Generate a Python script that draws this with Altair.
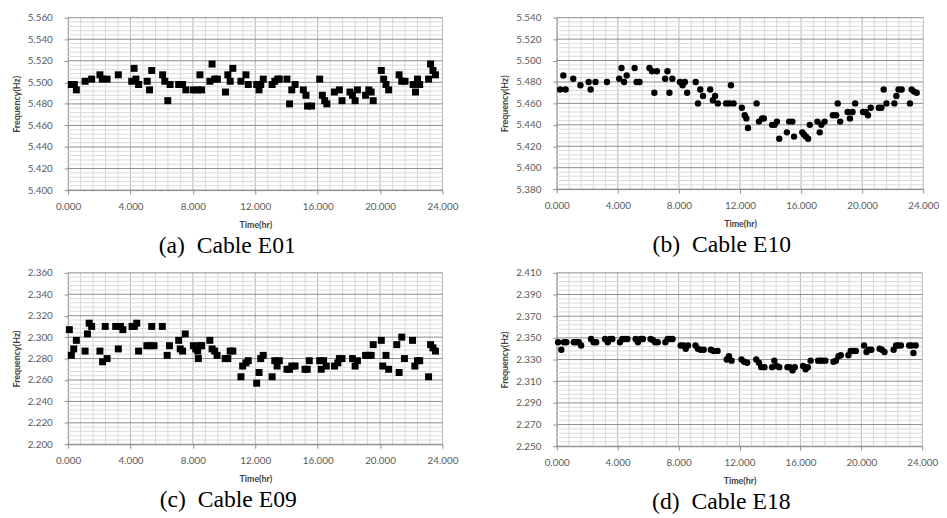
import altair as alt
import pandas as pd

# ---------------- data ----------------
A_T = [0.21,0.40,0.53,1.09,1.51,2.04,2.19,2.50,3.22,4.08,4.23,4.35,4.52,5.07,5.22,5.36,6.06,6.20,6.39,6.54,
       7.09,7.34,7.55,8.03,8.31,8.45,8.56,9.09,9.23,9.40,9.57,10.09,10.24,10.39,10.56,11.08,11.40,11.55,12.09,12.24,
       12.35,12.51,13.08,13.25,13.44,13.54,14.03,14.20,14.34,14.55,15.08,15.25,15.35,15.61,16.13,16.30,16.45,16.59,17.07,17.39,
       17.56,18.07,18.23,18.40,18.55,19.07,19.28,19.43,19.56,20.08,20.23,20.38,20.55,21.22,21.39,21.60,22.12,22.27,22.40,22.54,
       23.11,23.24,23.39,23.55]
A_F = [5.498,5.498,5.493,5.501,5.503,5.507,5.503,5.503,5.507,5.501,5.513,5.503,5.498,5.501,5.493,5.511,5.507,5.501,5.483,5.498,
       5.498,5.498,5.493,5.493,5.493,5.507,5.493,5.501,5.517,5.503,5.503,5.491,5.507,5.501,5.513,5.501,5.507,5.498,5.498,5.493,
       5.498,5.503,5.498,5.501,5.503,5.503,5.503,5.480,5.493,5.498,5.493,5.488,5.478,5.478,5.503,5.488,5.483,5.480,5.491,5.493,
       5.483,5.491,5.488,5.483,5.493,5.488,5.493,5.491,5.483,5.511,5.503,5.498,5.493,5.507,5.501,5.501,5.498,5.491,5.503,5.498,
       5.503,5.517,5.511,5.507]

B_T = [0.22,0.43,0.58,1.08,1.55,2.09,2.22,2.54,3.29,4.09,4.24,4.41,4.58,5.10,5.23,5.42,6.07,6.24,6.39,6.56,
       7.10,7.25,7.38,7.57,8.07,8.24,8.39,8.54,9.10,9.25,9.40,9.58,10.05,10.22,10.37,10.55,11.09,11.30,11.41,11.58,
       12.12,12.31,12.42,12.52,13.09,13.24,13.45,13.56,14.10,14.27,14.42,14.57,15.07,15.22,15.43,15.54,16.08,16.19,16.32,16.46,
       16.57,17.07,17.22,17.33,17.54,18.08,18.30,18.40,18.56,19.05,19.20,19.37,19.54,20.06,20.23,20.38,20.56,21.09,21.26,21.41,
       21.59,22.11,22.24,22.38,22.59,23.13,23.24,23.40,23.57]
B_F = [5.473,5.486,5.473,5.483,5.477,5.480,5.473,5.480,5.480,5.483,5.493,5.480,5.486,5.493,5.480,5.480,5.493,5.490,5.470,5.490,
       5.483,5.490,5.470,5.483,5.480,5.477,5.480,5.470,5.480,5.460,5.473,5.467,5.473,5.463,5.467,5.460,5.460,5.460,5.477,5.460,
       5.456,5.449,5.446,5.437,5.460,5.443,5.446,5.446,5.440,5.440,5.443,5.427,5.433,5.443,5.443,5.429,5.433,5.431,5.429,5.427,
       5.440,5.443,5.433,5.440,5.443,5.449,5.449,5.460,5.443,5.452,5.446,5.452,5.460,5.452,5.452,5.449,5.456,5.456,5.456,5.473,
       5.460,5.460,5.467,5.473,5.473,5.460,5.473,5.471,5.470]

C_T = [0.08,0.21,0.36,0.53,1.09,1.24,1.35,1.51,2.04,2.21,2.38,2.50,3.05,3.22,3.36,3.51,4.10,4.25,4.40,4.52,
       5.05,5.24,5.36,5.51,6.04,6.35,6.50,7.09,7.19,7.34,7.51,8.03,8.18,8.31,8.35,8.45,8.56,9.09,9.23,9.40,
       9.55,10.07,10.24,10.39,10.56,11.08,11.19,11.40,11.55,12.09,12.24,12.35,12.51,13.08,13.25,13.40,13.54,14.03,14.20,14.34,
       14.55,15.19,15.33,15.46,16.13,16.23,16.38,16.55,17.08,17.29,17.39,17.56,18.23,18.40,18.55,19.07,19.24,19.43,19.56,20.08,
       20.17,20.38,20.55,21.07,21.22,21.39,21.56,22.08,22.23,22.40,22.54,23.11,23.24,23.39,23.55]
C_F = [2.307,2.283,2.289,2.297,2.287,2.303,2.313,2.310,2.287,2.277,2.310,2.280,2.310,2.289,2.310,2.307,2.310,2.310,2.313,2.287,
       2.292,2.292,2.310,2.292,2.310,2.283,2.292,2.297,2.289,2.287,2.303,2.292,2.289,2.287,2.280,2.292,2.292,2.297,2.289,2.287,
       2.283,2.280,2.280,2.287,2.287,2.263,2.273,2.276,2.278,2.257,2.267,2.280,2.283,2.263,2.278,2.273,2.278,2.270,2.270,2.273,
       2.273,2.270,2.270,2.278,2.278,2.270,2.278,2.273,2.273,2.276,2.280,2.280,2.280,2.273,2.278,2.283,2.283,2.283,2.293,2.297,
       2.273,2.283,2.270,2.293,2.267,2.300,2.280,2.297,2.273,2.278,2.278,2.263,2.293,2.290,2.287]

D_T = [0.09,0.30,0.48,0.63,1.12,1.27,1.45,1.60,2.25,2.42,2.59,3.17,3.35,3.50,3.65,4.15,4.30,4.47,4.64,5.18,
       5.33,5.51,5.66,6.16,6.31,6.46,6.63,7.13,7.28,7.45,7.60,8.14,8.32,8.47,8.62,9.11,9.27,9.44,9.65,10.12,
       10.30,10.56,11.16,11.31,11.48,12.13,12.31,12.50,13.10,13.28,13.43,13.64,14.14,14.29,14.44,14.61,15.15,15.30,15.48,15.63,
       16.17,16.34,16.49,16.67,17.16,17.31,17.46,17.64,18.17,18.33,18.50,18.65,19.15,19.30,19.47,19.64,20.18,20.34,20.49,20.66,
       21.20,21.35,21.52,22.12,22.28,22.43,22.60,23.14,23.29,23.42,23.57]
D_F = [2.346,2.339,2.346,2.346,2.346,2.346,2.346,2.343,2.349,2.346,2.346,2.349,2.346,2.349,2.349,2.346,2.349,2.349,2.349,2.349,
       2.346,2.349,2.349,2.349,2.348,2.346,2.346,2.346,2.349,2.349,2.349,2.343,2.343,2.340,2.343,2.343,2.340,2.339,2.339,2.339,
       2.338,2.338,2.330,2.333,2.329,2.330,2.328,2.327,2.330,2.327,2.323,2.323,2.323,2.329,2.324,2.323,2.323,2.323,2.320,2.323,
       2.324,2.321,2.323,2.329,2.329,2.329,2.329,2.329,2.328,2.329,2.333,2.334,2.334,2.338,2.338,2.338,2.343,2.337,2.339,2.339,
       2.340,2.339,2.337,2.339,2.343,2.343,2.343,2.343,2.343,2.336,2.343]

X_TICKS = [0, 4, 8, 12, 16, 20, 24]
CAPTIONS = ["(a)\u00a0\u00a0Cable E01", "(b)\u00a0\u00a0Cable E10",
            "(c)\u00a0\u00a0Cable E09", "(d)\u00a0\u00a0Cable E18"]
Y_RANGES = [(5.400, 5.560), (5.380, 5.540), (2.200, 2.360), (2.250, 2.410)]


def panel(t, f, shape, size, yr, caption, width, height, dx):
    ymin, ymax = yr
    df = pd.DataFrame({"t": t, "f": f})
    y_major = [round(ymin + 0.02 * i, 3) for i in range(9)]
    y_minor = [round(ymin + 0.004 * i, 4) for i in range(41) if i % 5]
    x_minor = [round(0.8 * i, 2) for i in range(31) if i % 5]
    xs = alt.Scale(domain=[0, 24], nice=False, zero=False)
    ys = alt.Scale(domain=[ymin, ymax], nice=False, zero=False)
    xax = alt.Axis(values=X_TICKS, format=".3f", title="Time(hr)", grid=False,
                   labelFlush=False, labelPadding=8, titlePadding=9)
    yax = alt.Axis(values=y_major, format=".3f", title="Frequency(Hz)", grid=False,
                   labelFlush=False, labelPadding=12, titlePadding=6)

    def X(field):
        return alt.X(field, type="quantitative", scale=xs, axis=xax)

    def Y(field):
        return alt.Y(field, type="quantitative", scale=ys, axis=yax)

    vmin = alt.Chart(pd.DataFrame({"t": x_minor})).mark_rule(color="#d6d6d6", strokeWidth=1).encode(x=X("t"))
    vmaj = alt.Chart(pd.DataFrame({"t": X_TICKS})).mark_rule(color="#b4b4b4", strokeWidth=1).encode(x=X("t"))
    hmin = alt.Chart(pd.DataFrame({"f": y_minor})).mark_rule(color="#dadada", strokeWidth=1).encode(y=Y("f"))
    hmaj = alt.Chart(pd.DataFrame({"f": y_major})).mark_rule(color="#8c8c8c", strokeWidth=1).encode(y=Y("f"))

    pts = alt.Chart(df).mark_point(shape=shape, filled=True, color="black", opacity=1, size=size).encode(
        x=X("t"), y=Y("f"))
    return alt.layer(vmin, vmaj, hmin, hmaj, pts).properties(
        width=width, height=height,
        title=alt.TitleParams(caption, orient="bottom", anchor="middle", frame="bounds",
                              dx=dx, offset=5, font="Liberation Serif", fontSize=24,
                              fontWeight="normal", color="black"),
    )


pa = panel(A_T, A_F, "square", 50, Y_RANGES[0], CAPTIONS[0], 380, 175, -8)
pb = panel(B_T, B_F, "circle", 42, Y_RANGES[1], CAPTIONS[1], 372, 174, 2)
pc = panel(C_T, C_F, "square", 50, Y_RANGES[2], CAPTIONS[2], 380, 174, -7)
pd_ = panel(D_T, D_F, "circle", 42, Y_RANGES[3], CAPTIONS[3], 371, 176, 2)

chart = alt.vconcat(
    alt.hconcat(pa, pb, spacing=43),
    alt.hconcat(pc, pd_, spacing=43),
    spacing=10,
).properties(
    padding={"left": 4, "top": 1, "right": 0, "bottom": 0},
    background="white",
).configure_axis(
    labelFont="Lato", labelFontSize=10, labelColor="#595959",
    titleFont="Lato", titleFontSize=9, titleFontWeight="bold", titleColor="#404040",
    tickColor="#8c8c8c", tickSize=4, domainColor="#8c8c8c",
).configure_view(stroke=None)

chart.save("out.html", embed_options={"renderer": "svg", "actions": False})
